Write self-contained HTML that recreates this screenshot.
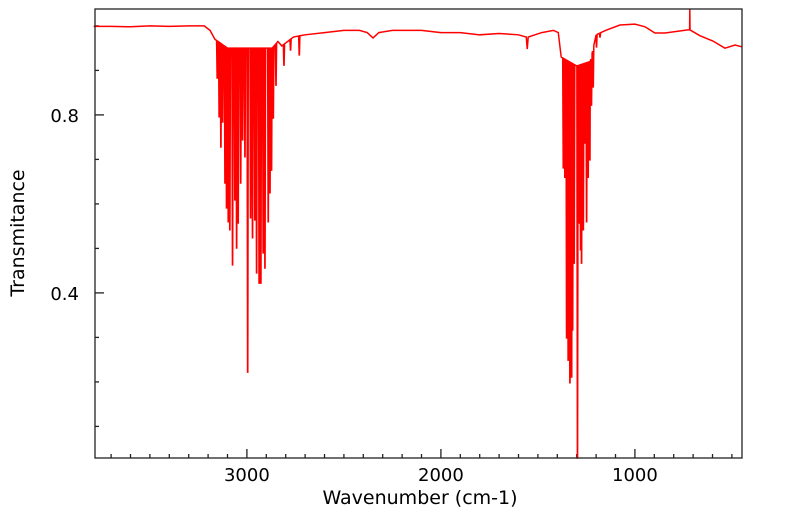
<!DOCTYPE html>
<html><head><meta charset="utf-8">
<style>
html,body{margin:0;padding:0;background:#fff;}
svg{display:block;font-family:"DejaVu Sans","Liberation Sans",sans-serif;}
</style></head>
<body>
<svg id="chart" width="799" height="516" viewBox="0 0 799 516" xmlns="http://www.w3.org/2000/svg">
<rect x="95" y="9" width="647" height="449" fill="#fff"/>
<g id="ticks"></g>
<path id="spectrum" fill="none" stroke="#ff0000" stroke-width="1.5" stroke-linejoin="miter"/>
<rect x="95" y="9" width="647" height="449" fill="none" stroke="#222" stroke-width="1.3"/>
<text x="420" y="504" font-size="19" text-anchor="middle" fill="#000">Wavenumber (cm-1)</text>
<text transform="translate(24,233) rotate(-90)" font-size="19" text-anchor="middle" fill="#000">Transmitance</text>
</svg>
<script>
const xDomain = [3783, 448];
const yDomain = [0.029, 1.038];
const xTickMajor = [3000, 2000, 1000];
const xTickLabels = ["3000", "2000", "1000"];
const yTickMajor = [0.4, 0.8];
const yTickLabels = ["0.4", "0.8"];
const baseWn = [3790,3700,3600,3500,3400,3300,3220,3190,3165,3100,2990,2870,2840,2820,2790,2760,2700,2600,2500,2420,2380,2350,2320,2250,2100,2000,1900,1800,1700,1600,1560,1555,1550,1480,1420,1395,1380,1300,1230,1200,1150,1077,1000,948,897,845,727,718,717,716,665,598,536,484,448];
const baseT  = [0.999,0.999,0.998,1.0,0.999,1.0,1.0,0.99,0.97,0.95,0.95,0.95,0.965,0.955,0.965,0.975,0.98,0.985,0.99,0.99,0.985,0.973,0.985,0.99,0.99,0.985,0.985,0.98,0.983,0.98,0.975,0.948,0.975,0.985,0.99,0.985,0.93,0.91,0.92,0.98,0.99,1.002,1.004,0.998,0.984,0.984,0.991,0.991,1.038,0.991,0.978,0.966,0.95,0.957,0.953];
const lineWn = [3153,3143,3134,3125,3113,3105,3096,3088,3074,3062,3053,3045,3032,3022,3010,2996,2981,2971,2959,2950,2937,2928,2916,2907,2890,2881,2873,2864,2850,2809,2775,2730,
  1369,1361,1352,1344,1335,1326,1321,1313,1296,1287,1280,1275,1266,1258,1249,1241,1232,1224,1215,1198,1180];
const lineT  = [0.883,0.796,0.728,0.784,0.647,0.591,0.56,0.542,0.463,0.609,0.501,0.557,0.647,0.744,0.706,0.222,0.569,0.524,0.564,0.445,0.422,0.422,0.49,0.456,0.56,0.625,0.676,0.793,0.867,0.912,0.946,0.935,
  0.681,0.66,0.299,0.249,0.198,0.211,0.317,0.467,0.029,0.557,0.497,0.467,0.542,0.737,0.56,0.66,0.699,0.822,0.863,0.953,0.975];

const L=95,R=742,T=9,B=458;
const xs = w => L + (w - xDomain[0]) / (xDomain[1] - xDomain[0]) * (R - L);
const ys = v => B - (v - yDomain[0]) / (yDomain[1] - yDomain[0]) * (B - T);
function base(w){
  for(let i=0;i<baseWn.length-1;i++){
    const a=baseWn[i],b=baseWn[i+1];
    if(w<=a && w>=b){ const t=(a-w)/(a-b||1); return baseT[i]+(baseT[i+1]-baseT[i])*t; }
  }
  return baseT[baseT.length-1];
}
let pts=[];
baseWn.forEach((w,i)=>pts.push([w,baseT[i]]));
lineWn.forEach((w,i)=>{
  const hw = 3.2;
  pts.push([w+hw, base(w+hw)]);
  pts.push([w+0.6, lineT[i]]);
  pts.push([w-0.6, lineT[i]]);
  pts.push([w-hw, base(w-hw)]);
});
pts.sort((a,b)=>b[0]-a[0]);
let d='';
pts.forEach((p,i)=>{ d += (i?'L':'M') + xs(p[0]).toFixed(2)+','+ys(p[1]).toFixed(2); });
document.getElementById('spectrum').setAttribute('d', d);

const NS='http://www.w3.org/2000/svg';
const g=document.getElementById('ticks');
function ln(x1,y1,x2,y2){
  const l=document.createElementNS(NS,'line');
  l.setAttribute('x1',x1);l.setAttribute('y1',y1);l.setAttribute('x2',x2);l.setAttribute('y2',y2);
  l.setAttribute('stroke','#222');l.setAttribute('stroke-width','1.3');
  
  
  g.appendChild(l);
}
for(let w=3700; w>=500; w-=100){
  const major = xTickMajor.includes(w);
  const x=xs(w);
  ln(x,B,x,B-(major?9:4));
}
xTickMajor.forEach((w,i)=>{
  const t=document.createElementNS(NS,'text');
  t.setAttribute('x',xs(w)); t.setAttribute('y',B+23);
  t.setAttribute('font-size','18'); t.setAttribute('text-anchor','middle');
  t.textContent=xTickLabels[i];
  
  
  g.appendChild(t);
});
for(let k=1;k<=10;k++){
  const v=k/10;
  const major = yTickMajor.some(m=>Math.abs(m-v)<1e-6);
  const y=ys(v);
  ln(L,y,L+(major?9:4),y);
}
yTickMajor.forEach((v,i)=>{
  const t=document.createElementNS(NS,'text');
  t.setAttribute('x',L-16); t.setAttribute('y',ys(v)+7);
  t.setAttribute('font-size','18'); t.setAttribute('text-anchor','end');
  t.textContent=yTickLabels[i];
  
  
  g.appendChild(t);
});
</script>
</body></html>
